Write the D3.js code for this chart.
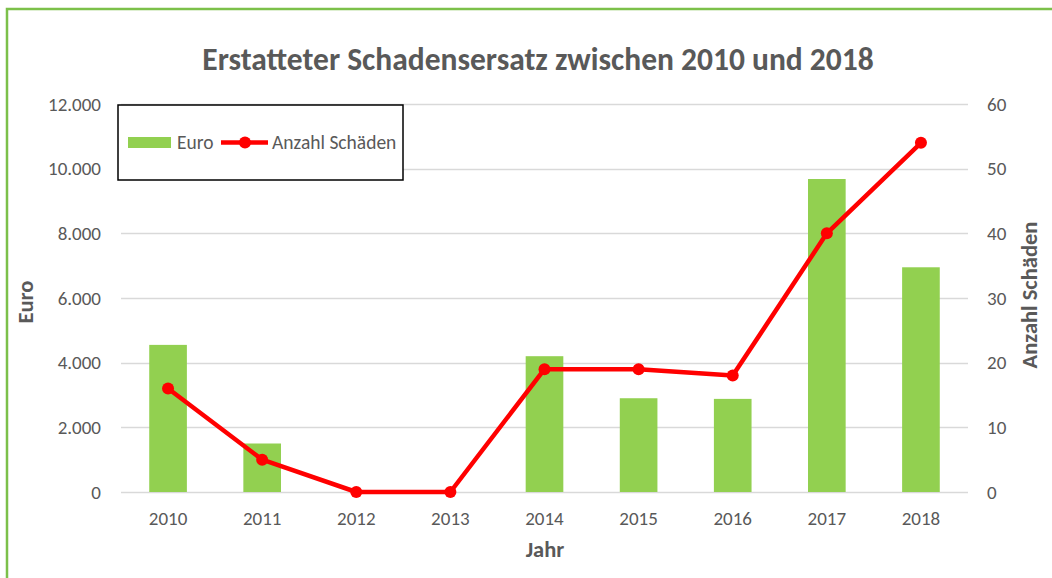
<!DOCTYPE html>
<html>
<head>
<meta charset="utf-8">
<script src="https://cdn.jsdelivr.net/npm/d3@7"></script>
<style>
  body { margin: 0; background: #fff; }
  svg { font-family: Carlito, "Open Sans", "Noto Sans", sans-serif; }
</style>
</head>
<body>
<svg id="chart"></svg>
<script>
const years = ["2010", "2011", "2012", "2013", "2014", "2015", "2016", "2017", "2018"];
const euro = [4550, 1500, 0, 0, 4200, 2900, 2880, 9680, 6950];
const schaeden = [16, 5, 0, 0, 19, 19, 18, 40, 54];
const leftTicks = [0, 2000, 4000, 6000, 8000, 10000, 12000];
const rightTicks = [0, 10, 20, 30, 40, 50, 60];

const width = 1052;
const height = 578;
const margin = { top: 104, right: 84, bottom: 86, left: 121 };
const textColor = "#595959";
const fontFamily = 'Carlito, "Open Sans", "Noto Sans", sans-serif';

const svg = d3.select("#chart")
    .attr("width", width)
    .attr("height", height);

// green frame (only top and left visible in the crop)
svg.append("rect")
    .attr("x", 7)
    .attr("y", 9)
    .attr("width", width + 20)
    .attr("height", height + 20)
    .attr("fill", "none")
    .attr("stroke", "#7cc04a")
    .attr("stroke-width", 2.5);

const x = d3.scaleBand()
    .domain(years)
    .range([margin.left, width - margin.right])
    .paddingInner(0.6)
    .paddingOuter(0.3);

const xPoint = d => x(d) + x.bandwidth() / 2;

const yLeft = d3.scaleLinear()
    .domain([0, 12000])
    .range([height - margin.bottom, margin.top]);

const yRight = d3.scaleLinear()
    .domain([0, 60])
    .range([height - margin.bottom, margin.top]);

const fmt = d3.formatLocale({ decimal: ",", thousands: ".", grouping: [3], currency: ["", "€"] }).format(",.0f");

// gridlines
svg.append("g")
    .selectAll("line")
    .data(leftTicks)
    .enter().append("line")
    .attr("x1", margin.left)
    .attr("x2", width - margin.right)
    .attr("y1", d => Math.round(yLeft(d)) + 0.5)
    .attr("y2", d => Math.round(yLeft(d)) + 0.5)
    .attr("stroke", "#d9d9d9")
    .attr("stroke-width", 1.3);

function styleAxis(g) {
    g.attr("font-family", fontFamily).attr("font-size", 19);
    g.select(".domain").remove();
    g.selectAll("text").attr("fill", textColor);
}

// left axis
svg.append("g")
    .attr("transform", `translate(${margin.left - 17}, 0)`)
    .call(d3.axisLeft(yLeft).tickValues(leftTicks).tickFormat(fmt).tickSize(0))
    .call(styleAxis);

// right axis
svg.append("g")
    .attr("transform", `translate(${width - margin.right + 16}, 0)`)
    .call(d3.axisRight(yRight).tickValues(rightTicks).tickSize(0))
    .call(styleAxis);

// bottom axis
svg.append("g")
    .attr("transform", `translate(0, ${height - margin.bottom + 16})`)
    .call(d3.axisBottom(x).tickSize(0))
    .call(styleAxis);

// bars
svg.append("g")
    .selectAll("rect")
    .data(years.map((y, i) => ({ year: y, value: euro[i] })))
    .enter().append("rect")
    .attr("x", d => x(d.year))
    .attr("y", d => yLeft(d.value))
    .attr("width", x.bandwidth())
    .attr("height", d => yLeft(0) - yLeft(d.value))
    .attr("fill", "#92d050");

// line
const lineData = years.map((y, i) => ({ year: y, value: schaeden[i] }));
svg.append("path")
    .datum(lineData)
    .attr("fill", "none")
    .attr("stroke", "#ff0000")
    .attr("stroke-width", 4.5)
    .attr("stroke-linejoin", "round")
    .attr("d", d3.line().x(d => xPoint(d.year)).y(d => yRight(d.value)));

svg.append("g")
    .selectAll("circle")
    .data(lineData)
    .enter().append("circle")
    .attr("cx", d => xPoint(d.year))
    .attr("cy", d => yRight(d.value))
    .attr("r", 6)
    .attr("fill", "#ff0000");

// title
svg.append("text")
    .attr("x", 538)
    .attr("y", 70)
    .attr("text-anchor", "middle")
    .attr("fill", textColor)
    .style("font-size", "31.5px")
    .style("font-weight", "bold")
    .text("Erstatteter Schadensersatz zwischen 2010 und 2018");

// axis titles
svg.append("text")
    .attr("transform", "rotate(-90)")
    .attr("x", -302)
    .attr("y", 33)
    .attr("text-anchor", "middle")
    .attr("fill", textColor)
    .style("font-size", "22.5px")
    .style("font-weight", "bold")
    .text("Euro");

svg.append("text")
    .attr("transform", "rotate(-90)")
    .attr("x", -295)
    .attr("y", 1037)
    .attr("text-anchor", "middle")
    .attr("fill", textColor)
    .style("font-size", "22.5px")
    .style("font-weight", "bold")
    .text("Anzahl Schäden");

svg.append("text")
    .attr("x", 545)
    .attr("y", 557)
    .attr("text-anchor", "middle")
    .attr("fill", textColor)
    .style("font-size", "22.5px")
    .style("font-weight", "bold")
    .text("Jahr");

// legend
const legend = svg.append("g").attr("transform", "translate(118, 105)");
legend.append("rect")
    .attr("width", 285)
    .attr("height", 75)
    .attr("fill", "#fff")
    .attr("stroke", "#000")
    .attr("stroke-width", 1.5);
legend.append("rect")
    .attr("x", 10)
    .attr("y", 32)
    .attr("width", 43)
    .attr("height", 11)
    .attr("fill", "#92d050");
legend.append("text")
    .attr("x", 59)
    .attr("y", 44)
    .attr("fill", textColor)
    .style("font-size", "19.5px")
    .text("Euro");
legend.append("line")
    .attr("x1", 103)
    .attr("x2", 150)
    .attr("y1", 37.5)
    .attr("y2", 37.5)
    .attr("stroke", "#ff0000")
    .attr("stroke-width", 4.5);
legend.append("circle")
    .attr("cx", 127)
    .attr("cy", 37.5)
    .attr("r", 6)
    .attr("fill", "#ff0000");
legend.append("text")
    .attr("x", 154)
    .attr("y", 44)
    .attr("fill", textColor)
    .style("font-size", "19.5px")
    .text("Anzahl Schäden");
</script>
</body>
</html>
